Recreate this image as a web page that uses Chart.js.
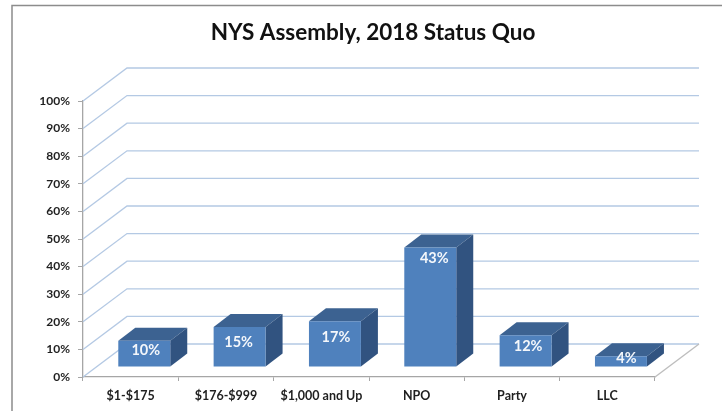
<!DOCTYPE html>
<html><head><meta charset="utf-8">
<style>html,body{margin:0;padding:0;background:#fff}#w{width:722px;height:411px;position:relative}canvas{display:block}</style>
<script src="https://cdn.jsdelivr.net/npm/chart.js@4/dist/chart.umd.min.js"></script>
</head><body><div id="w"><canvas id="c" width="722" height="411"></canvas></div>
<script>
const categories = ['$1-$175','$176-$999','$1,000 and Up','NPO','Party','LLC'];
const values = [9.5,14.5,16.6,43.3,11.5,3.9];
const valueLabels = ['10%','15%','17%','43%','12%','4%'];
const yTicks = [0,10,20,30,40,50,60,70,80,90,100];
const titleText = 'NYS Assembly, 2018 Status Quo';
const labelNudgeX = [1.5,-1,1,4,2.5,5.5];
const labelDropY = [10,15,16,11,11,2];
const FONT = 'Lato,"Noto Sans",sans-serif';
const BACK = {dx:44, dy:-33};
const SHIFT = {dx:13.6, dy:-10};
const SIDE = {dx:17, dy:-13};

const frame = {id:'frame',
  afterLayout(c){ c.titleBlock.left=12; c.titleBlock.right=12+c.width; },
  beforeDraw(c){
  const g=c.ctx; g.save();
  g.fillStyle='#fff'; g.fillRect(0,0,722,411);
  g.strokeStyle='#8c8c8c'; g.lineWidth=1.5;
  g.beginPath(); g.moveTo(12,411); g.lineTo(12,5.5); g.lineTo(722,5.5); g.stroke();
  g.restore();
}};
const walls = {id:'walls',beforeDatasetsDraw(c){
  const g=c.ctx,x=c.scales.x,y=c.scales.y; g.save();
  g.strokeStyle='#b4c9e4'; g.lineWidth=1.3;
  yTicks.forEach(v=>{
    const p=y.getPixelForValue(v);
    g.beginPath(); g.moveTo(x.left,p); g.lineTo(x.left+BACK.dx,p+BACK.dy); g.lineTo(x.right+BACK.dx,p+BACK.dy); g.stroke();
  });
  const b=y.getPixelForValue(0);
  g.strokeStyle='#bdbdbd'; g.lineWidth=1.3;
  g.beginPath(); g.moveTo(x.right,b); g.lineTo(x.right+BACK.dx,b+BACK.dy); g.stroke();
  g.restore();
}};
const box = {id:'box',
  beforeDatasetDraw(c){
    const g=c.ctx; g.save(); g.translate(SHIFT.dx,SHIFT.dy);
    c.getDatasetMeta(0).data.forEach(b=>{
      const l=b.x-b.width/2,r=b.x+b.width/2,t=b.y,bt=b.base;
      g.fillStyle='#3c6291';
      g.beginPath(); g.moveTo(l,t); g.lineTo(l+SIDE.dx,t+SIDE.dy); g.lineTo(r+SIDE.dx,t+SIDE.dy); g.lineTo(r,t); g.closePath(); g.fill();
      g.fillStyle='#315380';
      g.beginPath(); g.moveTo(r,t); g.lineTo(r+SIDE.dx,t+SIDE.dy); g.lineTo(r+SIDE.dx,bt+SIDE.dy); g.lineTo(r,bt); g.closePath(); g.fill();
    });
  },
  afterDatasetDraw(c){
    const g=c.ctx;
    g.fillStyle='#f4f7fb'; g.font='bold 14.5px '+FONT; g.textAlign='center'; g.textBaseline='middle';
    c.getDatasetMeta(0).data.forEach((b,i)=>{
      g.fillText(valueLabels[i], b.x+labelNudgeX[i], b.y+labelDropY[i]);
    });
    g.restore();
  }
};
new Chart(document.getElementById('c'),{
  type:'bar',
  data:{labels:categories,datasets:[{data:values,backgroundColor:'#4f81bd',barPercentage:0.545,categoryPercentage:1}]},
  plugins:[frame,walls,box],
  options:{
    responsive:false,animation:false,
    layout:{padding:{left:0,right:67,top:0,bottom:0}},
    plugins:{legend:{display:false},tooltip:{enabled:false},
      title:{display:true,text:titleText,color:'#111',fullSize:true,
        font:{family:FONT,size:22.5,weight:'bold',lineHeight:1.2},
        padding:{top:19,bottom:55}}},
    scales:{
      x:{position:'bottom',grid:{display:true,drawOnChartArea:false,color:'#a6a6a6',tickLength:4,offset:true},
         border:{color:'#a6a6a6',width:1.3},
         afterFit(s){s.height=34;},
         ticks:{color:'#1f1f1f',font:{family:FONT,size:12.5,weight:'bold'},padding:7,maxRotation:0,autoSkip:false}},
      y:{min:0,max:100,grid:{display:true,drawOnChartArea:false,color:'#a6a6a6',tickLength:5},
         border:{color:'#a6a6a6',width:1.3},
         afterBuildTicks(s){s.ticks=yTicks.map(v=>({value:v}));},
         afterFit(s){s.width=83;},
         ticks:{color:'#1f1f1f',font:{family:FONT,size:12,weight:'bold'},padding:8,callback:v=>v+'%'}}
    }
  }
});
</script>
</body></html>
